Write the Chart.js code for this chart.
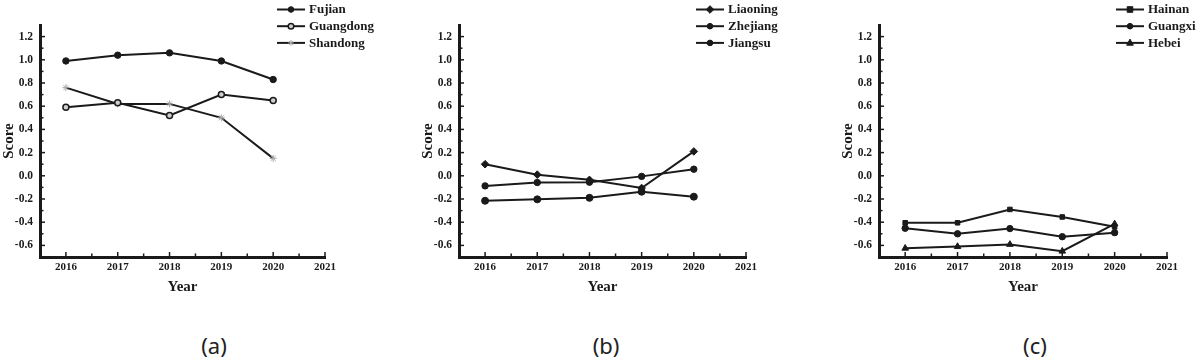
<!DOCTYPE html>
<html>
<head>
<meta charset="utf-8">
<script src="https://cdn.jsdelivr.net/npm/chart.js@4/dist/chart.umd.min.js"></script>
<style>
  html, body { margin: 0; padding: 0; background: #fff; overflow: hidden; }
  body { width: 1200px; height: 359px; position: relative; }
  .panel { position: absolute; top: 0; width: 380px; height: 300px; }
  .tag { position: absolute; top: 330px; width: 60px; margin-left: -30px; text-align: center;
         font-family: "Noto Sans", sans-serif; font-size: 22px; line-height: 30px; color: #222; }
</style>
</head>
<body>
<div class="panel" style="left:0px"><canvas id="chartA"></canvas></div>
<div class="panel" style="left:419px"><canvas id="chartB"></canvas></div>
<div class="panel" style="left:839px"><canvas id="chartC"></canvas></div>
<div class="tag" style="left:214px">(a)</div>
<div class="tag" style="left:606px">(b)</div>
<div class="tag" style="left:1035px">(c)</div>

<script>
// ---- data ----
const years = [2016, 2017, 2018, 2019, 2020];

const fujian    = [0.99, 1.04, 1.06, 0.99, 0.83];
const guangdong = [0.59, 0.63, 0.52, 0.70, 0.65];
const shandong  = [0.76, 0.62, 0.62, 0.50, 0.15];

const liaoning = [0.10, 0.01, -0.035, -0.105, 0.21];
const zhejiang = [-0.087, -0.058, -0.055, -0.005, 0.057];
const jiangsu  = [-0.215, -0.203, -0.19, -0.137, -0.18];

const hainan  = [-0.405, -0.405, -0.29, -0.355, -0.44];
const guangxi = [-0.452, -0.50, -0.455, -0.525, -0.49];
const hebei   = [-0.625, -0.61, -0.592, -0.65, -0.415];

const xTickValues = [2016, 2017, 2018, 2019, 2020, 2021];
const xTickLabels = ['2016', '2017', '2018', '2019', '2020', '2021'];
const yTickValues = [-0.6, -0.4, -0.2, 0.0, 0.2, 0.4, 0.6, 0.8, 1.0, 1.2];
const yTickLabels = ['-0.6', '-0.4', '-0.2', '0.0', '0.2', '0.4', '0.6', '0.8', '1.0', '1.2'];

const INK = '#1a1a1a';
const SERIF = '"Liberation Serif", "Times New Roman", serif';

function pts(vals) {
  return vals.map((v, i) => ({ x: years[i], y: v }));
}

function series(label, vals, style) {
  return Object.assign({
    label,
    data: pts(vals),
    borderColor: INK,
    borderWidth: 2,
    pointBackgroundColor: INK,
    pointBorderColor: INK,
    pointBorderWidth: 1,
    pointRadius: 3.2,
    tension: 0
  }, style);
}

// small marker painter used for the legend rows
function marker(ctx, ds, x, y) {
  const r = 2.8;
  ctx.save();
  ctx.fillStyle = ds.pointBackgroundColor;
  ctx.strokeStyle = ds.pointBorderColor;
  ctx.lineWidth = ds.pointBorderWidth;
  ctx.beginPath();
  switch (ds.pointStyle) {
    case 'rect':
      ctx.rect(x - r, y - r, 2 * r, 2 * r); break;
    case 'rectRot':
      ctx.moveTo(x, y - r - 1); ctx.lineTo(x + r + 1, y); ctx.lineTo(x, y + r + 1); ctx.lineTo(x - r - 1, y); ctx.closePath(); break;
    case 'triangle':
      ctx.moveTo(x, y - r - 1); ctx.lineTo(x + r + 0.5, y + r - 0.5); ctx.lineTo(x - r - 0.5, y + r - 0.5); ctx.closePath(); break;
    case 'star':
      for (let a = 0; a < 4; a++) {
        const t = a * Math.PI / 4;
        ctx.moveTo(x - Math.cos(t) * r, y - Math.sin(t) * r);
        ctx.lineTo(x + Math.cos(t) * r, y + Math.sin(t) * r);
      }
      ctx.stroke(); ctx.restore(); return;
    default:
      ctx.arc(x, y, r, 0, Math.PI * 2);
  }
  ctx.fill();
  ctx.stroke();
  ctx.restore();
}

const decorations = {
  id: 'decorations',
  afterDraw(chart) {
    const { ctx, chartArea } = chart;
    const xs = chart.scales.x, ys = chart.scales.y;
    ctx.save();
    ctx.strokeStyle = INK;
    ctx.lineWidth = 1.5;
    // inward ticks on y axis
    yTickValues.forEach(v => {
      const py = ys.getPixelForValue(v);
      ctx.beginPath(); ctx.moveTo(chartArea.left, py); ctx.lineTo(chartArea.left + 5, py); ctx.stroke();
      const mid = ys.getPixelForValue(v + 0.1);
      if (mid > chartArea.top + 1) {
        ctx.beginPath(); ctx.moveTo(chartArea.left, mid); ctx.lineTo(chartArea.left + 3.5, mid); ctx.stroke();
      }
    });
    // inward ticks on x axis
    xTickValues.forEach(v => {
      const px = xs.getPixelForValue(v);
      ctx.beginPath(); ctx.moveTo(px, chartArea.bottom); ctx.lineTo(px, chartArea.bottom - 5); ctx.stroke();
      const mid = xs.getPixelForValue(v - 0.5);
      ctx.beginPath(); ctx.moveTo(mid, chartArea.bottom); ctx.lineTo(mid, chartArea.bottom - 3.5); ctx.stroke();
    });
    // legend, top right
    const lx = chartArea.left + 237;
    ctx.font = 'bold 13px ' + SERIF;
    ctx.textBaseline = 'middle';
    chart.data.datasets.forEach((ds, i) => {
      const ly = 9.5 + i * 16.7;
      ctx.strokeStyle = INK;
      ctx.lineWidth = 2;
      ctx.beginPath(); ctx.moveTo(lx, ly); ctx.lineTo(lx + 28, ly); ctx.stroke();
      marker(ctx, ds, lx + 14, ly);
      ctx.fillStyle = INK;
      ctx.fillText(ds.label, lx + 32, ly + 0.5);
    });
    ctx.restore();
  }
};

function makeChart(id, padRight, datasets) {
  return new Chart(document.getElementById(id), {
    type: 'line',
    data: { datasets },
    options: {
      responsive: false,
      animation: false,
      devicePixelRatio: 1,
      layout: { padding: { top: 25, right: padRight, left: 0, bottom: 0 } },
      plugins: { legend: { display: false }, tooltip: { enabled: false } },
      scales: {
        x: {
          type: 'linear',
          min: 2015.5,
          max: 2021,
          afterBuildTicks: s => { s.ticks = xTickValues.map(v => ({ value: v })); },
          afterFit: s => { s.height = 43; },
          grid: { display: false, drawTicks: false },
          border: { display: true, width: 3, color: INK },
          ticks: {
            color: INK,
            padding: 4,
            maxRotation: 0,
            autoSkip: false,
            font: { family: SERIF, size: 11, weight: 'bold' },
            callback: (v, i) => xTickLabels[i]
          },
          title: {
            display: true, text: 'Year', color: INK,
            padding: { top: 0, bottom: 4 },
            font: { family: SERIF, size: 15, weight: 'bold' }
          }
        },
        y: {
          min: -0.7,
          max: 1.3,
          afterBuildTicks: s => { s.ticks = yTickValues.map(v => ({ value: v })); },
          afterFit: s => { s.width = 40; },
          grid: { display: false, drawTicks: false },
          border: { display: true, width: 3, color: INK },
          ticks: {
            color: INK,
            padding: 7,
            autoSkip: false,
            font: { family: SERIF, size: 11.5, weight: 'bold' },
            callback: (v, i) => yTickLabels[i]
          },
          title: {
            display: true, text: 'Score', color: INK,
            padding: { top: 0, bottom: 0 },
            font: { family: SERIF, size: 15, weight: 'bold' }
          }
        }
      }
    },
    plugins: [decorations]
  });
}

['chartA', 'chartB', 'chartC'].forEach(id => {
  const c = document.getElementById(id);
  c.width = 380; c.height = 300;
});

makeChart('chartA', 55, [
  series('Fujian', fujian, { pointStyle: 'circle' }),
  series('Guangdong', guangdong, { pointStyle: 'circle', pointBackgroundColor: '#cfcfcf', pointBorderWidth: 1.5, pointRadius: 3 }),
  series('Shandong', shandong, { pointStyle: 'star', pointBackgroundColor: '#a8a8a8', pointBorderColor: '#a8a8a8', pointRadius: 3.5 })
]);

makeChart('chartB', 53, [
  series('Liaoning', liaoning, { pointStyle: 'rectRot', pointRadius: 3.8 }),
  series('Zhejiang', zhejiang, { pointStyle: 'circle' }),
  series('Jiangsu', jiangsu, { pointStyle: 'circle', pointRadius: 3.5 })
]);

makeChart('chartC', 52, [
  series('Hainan', hainan, { pointStyle: 'rect', pointRadius: 3.2 }),
  series('Guangxi', guangxi, { pointStyle: 'circle' }),
  series('Hebei', hebei, { pointStyle: 'triangle', pointRadius: 3.8 })
]);
</script>
</body>
</html>
